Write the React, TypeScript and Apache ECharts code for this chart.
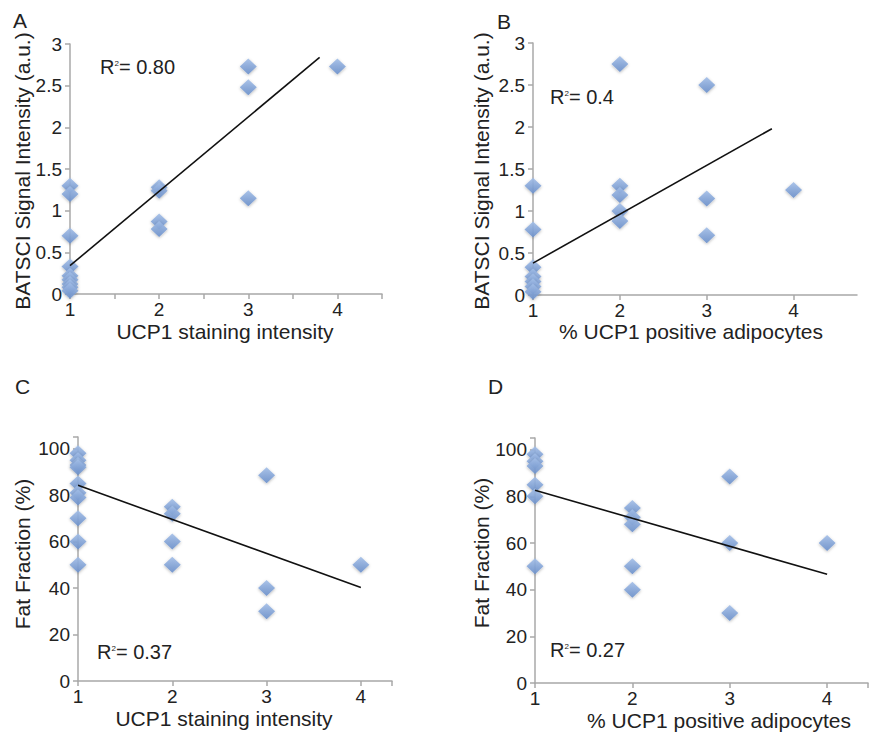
import React, { useEffect, useRef } from "react";
import * as echarts from "echarts";

// ---------- data ----------
const panelAX = [1, 1, 1, 1, 1, 1, 1, 1, 1, 2, 2, 2, 2, 3, 3, 3, 4];
const panelAY = [1.3, 1.2, 0.7, 0.33, 0.22, 0.17, 0.12, 0.08, 0.04, 1.28, 1.24, 0.87, 0.78, 2.73, 2.48, 1.15, 2.73];
const trendAX = [1, 3.8];
const trendAY = [0.34, 2.84];

const panelBX = [1, 1, 1, 1, 1, 1, 1, 2, 2, 2, 2, 2, 3, 3, 3, 4];
const panelBY = [1.3, 0.78, 0.33, 0.22, 0.16, 0.1, 0.04, 2.75, 1.3, 1.19, 1.0, 0.88, 2.5, 1.15, 0.71, 1.25];
const trendBX = [1, 3.75];
const trendBY = [0.38, 1.98];

const panelCX = [1, 1, 1, 1, 1, 1, 1, 1, 1, 1, 2, 2, 2, 2, 3, 3, 3, 4];
const panelCY = [98, 95, 93, 92, 85, 81, 79, 70, 60, 50, 75, 72, 60, 50, 88.5, 40, 30, 50];
const trendCX = [1, 4];
const trendCY = [84.2, 40.2];

const panelDX = [1, 1, 1, 1, 1, 1, 2, 2, 2, 2, 2, 3, 3, 3, 4];
const panelDY = [98, 95, 93, 85, 80, 50, 75, 71, 68, 50, 40, 88.5, 60, 30, 60];
const trendDX = [1, 4];
const trendDY = [82.6, 46.6];

const r2Labels = ["0.80", "0.4", "0.37", "0.27"];
const panelLetters = ["A", "B", "C", "D"];
const xTitles = ["UCP1 staining intensity", "% UCP1 positive adipocytes", "UCP1 staining intensity", "% UCP1 positive adipocytes"];
const yTitles = ["BATSCI Signal Intensity (a.u.)", "BATSCI Signal Intensity (a.u.)", "Fat Fraction (%)", "Fat Fraction (%)"];

// ---------- styles ----------
const FONT = "Liberation Sans, Arial, sans-serif";
const TEXT = "#222222";
const AXIS = "#a8a8a8";

const zip = (xs: number[], ys: number[]) => xs.map((x, i) => [x, ys[i]]);

export default function App() {
  const ref = useRef<HTMLDivElement>(null);

  useEffect(() => {
    if (!ref.current) return;
    const chart = echarts.init(ref.current, null, { renderer: "svg" });

    const grids = [
      { left: 70, top: 44, width: 312, height: 250 },
      { left: 533, top: 43, width: 324, height: 252 },
      { left: 78, top: 437, width: 314, height: 244 },
      { left: 535, top: 438, width: 336, height: 245 },
    ];

    const markerColor = new echarts.graphic.LinearGradient(0, 0, 0, 1, [
      { offset: 0, color: "#a4bfe8" },
      { offset: 1, color: "#6b90cb" },
    ]);

    const intLabel = (v: number) => (Math.abs(v - Math.round(v)) < 1e-9 ? String(Math.round(v)) : "");

    const xAxisBase = (gridIndex: number, max: number, interval: number, extra: any = {}) => ({
      type: "value",
      gridIndex,
      min: 1,
      max,
      interval,
      axisLine: { show: true, onZero: false, lineStyle: { color: AXIS, width: 1.5 } },
      axisTick: { show: true, length: 5, lineStyle: { color: AXIS, width: 1.5 } },
      splitLine: { show: false },
      axisLabel: { formatter: intLabel, color: TEXT, fontSize: 19, fontFamily: FONT, margin: 6 },
      ...extra,
    });

    const yAxisBase = (gridIndex: number, max: number, interval: number, fmt: (v: number) => string) => ({
      type: "value",
      gridIndex,
      min: 0,
      max,
      interval,
      axisLine: { show: true, lineStyle: { color: AXIS, width: 1.5 } },
      axisTick: { show: true, length: 5, lineStyle: { color: AXIS, width: 1.5 } },
      splitLine: { show: false },
      axisLabel: { formatter: fmt, color: TEXT, fontSize: 19, fontFamily: FONT, margin: 8 },
    });

    const halfFmt = (v: number) => (v <= 3 + 1e-9 ? String(v) : "");
    const pctFmt = (v: number) => (v % 20 === 0 ? String(v) : "");

    const scatter = (idx: number, xs: number[], ys: number[]) => ({
      type: "scatter",
      xAxisIndex: idx,
      yAxisIndex: idx,
      data: zip(xs, ys),
      symbol: "diamond",
      symbolSize: [17, 16],
      itemStyle: {
        color: markerColor,
        opacity: 0.9,
        shadowBlur: 3,
        shadowColor: "rgba(0,0,0,0.3)",
        shadowOffsetY: 1,
      },
      z: 2,
    });

    const trend = (idx: number, xs: number[], ys: number[]) => ({
      type: "line",
      xAxisIndex: idx,
      yAxisIndex: idx,
      data: zip(xs, ys),
      symbol: "none",
      lineStyle: { color: "#111111", width: 1.6 },
      z: 3,
    });

    const r2Pos = [
      [100, 67],
      [550, 97],
      [97, 652],
      [550, 650],
    ];
    const letterPos = [
      [13, 20],
      [497, 21],
      [15, 386],
      [488, 386],
    ];
    const xTitlePos = [
      [225, 331],
      [691, 331],
      [224, 718],
      [719, 720],
    ];
    const yTitlePos = [
      [22, 171],
      [481, 171],
      [22, 554],
      [481, 553],
    ];

    const graphics: any[] = [];
    for (let i = 0; i < 4; i++) {
      graphics.push({
        type: "text",
        x: letterPos[i][0],
        y: letterPos[i][1],
        style: {
          text: panelLetters[i],
          font: `21px ${FONT}`,
          fill: TEXT,
          align: "left",
          verticalAlign: "middle",
        },
      });
      graphics.push({
        type: "text",
        x: r2Pos[i][0],
        y: r2Pos[i][1],
        style: {
          text: `{r|R}{s|2}{r|= ${r2Labels[i]}}`,
          fill: TEXT,
          align: "left",
          verticalAlign: "middle",
          rich: {
            r: { fontSize: 20, fontFamily: FONT, fill: TEXT, color: TEXT, verticalAlign: "middle" },
            s: { fontSize: 8, fontFamily: FONT, fill: TEXT, color: TEXT, verticalAlign: "top", padding: [2, 0, 0, 0] },
          },
        },
      });
      graphics.push({
        type: "text",
        x: xTitlePos[i][0],
        y: xTitlePos[i][1],
        style: {
          text: xTitles[i],
          font: `21px ${FONT}`,
          fill: TEXT,
          align: "center",
          verticalAlign: "middle",
        },
      });
      graphics.push({
        type: "text",
        x: yTitlePos[i][0],
        y: yTitlePos[i][1],
        rotation: Math.PI / 2,
        style: {
          text: yTitles[i],
          font: `21px ${FONT}`,
          fill: TEXT,
          align: "center",
          verticalAlign: "middle",
        },
      });
    }

    chart.setOption({
      animation: false,
      backgroundColor: "#ffffff",
      grid: grids,
      xAxis: [
        xAxisBase(0, 4.5, 0.5),
        xAxisBase(1, 4.73, 1, { axisTick: { show: true, length: 5, customValues: [1, 2, 3, 4], lineStyle: { color: AXIS, width: 1.5 } } }),
        xAxisBase(2, 4.33, 1),
        xAxisBase(3, 4.42, 1),
      ],
      yAxis: [
        yAxisBase(0, 3, 0.5, halfFmt),
        yAxisBase(1, 3, 0.5, halfFmt),
        yAxisBase(2, 105, 20, pctFmt),
        yAxisBase(3, 105, 20, pctFmt),
      ],
      series: [
        scatter(0, panelAX, panelAY),
        trend(0, trendAX, trendAY),
        scatter(1, panelBX, panelBY),
        trend(1, trendBX, trendBY),
        scatter(2, panelCX, panelCY),
        trend(2, trendCX, trendCY),
        scatter(3, panelDX, panelDY),
        trend(3, trendDX, trendDY),
      ],
      graphic: graphics,
    });

    return () => chart.dispose();
  }, []);

  return (
    <div
      ref={ref}
      style={{ position: "absolute", left: 0, top: 0, width: 871, height: 732, background: "#fff" }}
    />
  );
}
